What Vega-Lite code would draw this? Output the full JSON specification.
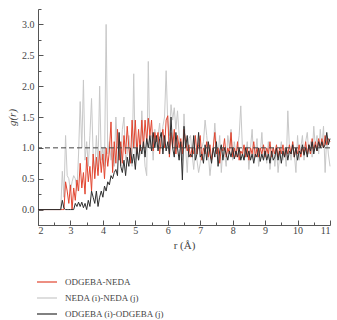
{
  "$schema": "https://vega.github.io/schema/vega-lite/v6.json",
  "width": 292,
  "height": 216,
  "padding": {"left": 6, "top": 8, "right": 2, "bottom": 0},
  "config": {
    "font": "Liberation Serif",
    "view": {"stroke": null},
    "axis": {"grid": false, "domainColor": "#555", "tickColor": "#555", "labelColor": "#444", "titleColor": "#444", "labelFontSize": 10, "titleFontSize": 11, "titleFontWeight": "normal", "domainWidth": 1, "tickWidth": 1}
  },
  "data": {"values": [
    {"r":2.0,"a":0,"b":0,"c":0},
    {"r":2.7,"a":0,"b":0,"c":0},
    {"r":2.75,"a":0,"b":0.62,"c":0.15},
    {"r":2.8,"a":0,"b":0.2,"c":0.02},
    {"r":2.85,"a":0.45,"b":1.2,"c":0},
    {"r":2.9,"a":0.3,"b":0.55,"c":0},
    {"r":2.95,"a":0.1,"b":0.5,"c":0},
    {"r":3.0,"a":0.4,"b":0.3,"c":0},
    {"r":3.05,"a":0.0,"b":0.45,"c":0},
    {"r":3.1,"a":0.35,"b":0.55,"c":0},
    {"r":3.15,"a":0.15,"b":0.5,"c":0.1},
    {"r":3.2,"a":0.48,"b":0.3,"c":0.05},
    {"r":3.25,"a":0.3,"b":0.9,"c":0.12},
    {"r":3.3,"a":0.75,"b":1.75,"c":0.05},
    {"r":3.35,"a":0.35,"b":1.0,"c":0.12},
    {"r":3.4,"a":0.6,"b":2.1,"c":0.03},
    {"r":3.45,"a":0.25,"b":0.8,"c":0.1},
    {"r":3.5,"a":0.85,"b":1.1,"c":0.0},
    {"r":3.55,"a":0.45,"b":0.7,"c":0.15},
    {"r":3.6,"a":0.7,"b":1.2,"c":0.05},
    {"r":3.65,"a":0.3,"b":1.8,"c":0.3},
    {"r":3.7,"a":0.9,"b":0.9,"c":0.2},
    {"r":3.75,"a":0.5,"b":0.6,"c":0.1},
    {"r":3.8,"a":0.85,"b":1.2,"c":0.3},
    {"r":3.85,"a":0.55,"b":0.7,"c":0.05},
    {"r":3.9,"a":0.95,"b":2.0,"c":0.2},
    {"r":3.95,"a":0.6,"b":0.8,"c":0.3},
    {"r":4.0,"a":0.9,"b":1.0,"c":0.2},
    {"r":4.05,"a":0.5,"b":0.7,"c":0.38},
    {"r":4.1,"a":1.0,"b":3.0,"c":0.3},
    {"r":4.15,"a":0.7,"b":0.9,"c":0.45},
    {"r":4.2,"a":0.95,"b":1.1,"c":0.4},
    {"r":4.25,"a":1.42,"b":0.8,"c":0.55},
    {"r":4.3,"a":0.6,"b":1.0,"c":0.5},
    {"r":4.35,"a":1.1,"b":0.7,"c":0.6},
    {"r":4.4,"a":0.75,"b":1.5,"c":0.65},
    {"r":4.45,"a":1.3,"b":1.0,"c":0.55},
    {"r":4.5,"a":0.8,"b":1.2,"c":1.25},
    {"r":4.55,"a":1.1,"b":0.7,"c":0.7},
    {"r":4.6,"a":0.75,"b":1.3,"c":0.6},
    {"r":4.65,"a":1.2,"b":1.5,"c":0.8},
    {"r":4.7,"a":0.9,"b":0.8,"c":0.55},
    {"r":4.75,"a":1.35,"b":0.9,"c":0.85},
    {"r":4.8,"a":1.0,"b":1.2,"c":0.7},
    {"r":4.85,"a":0.75,"b":0.9,"c":1.0},
    {"r":4.9,"a":1.45,"b":0.7,"c":0.75},
    {"r":4.95,"a":1.0,"b":2.2,"c":0.9},
    {"r":5.0,"a":1.45,"b":0.8,"c":0.65},
    {"r":5.05,"a":0.9,"b":1.0,"c":1.0},
    {"r":5.1,"a":1.3,"b":0.8,"c":0.8},
    {"r":5.15,"a":0.95,"b":0.9,"c":1.05},
    {"r":5.2,"a":1.45,"b":1.6,"c":0.9},
    {"r":5.25,"a":1.0,"b":1.1,"c":1.1},
    {"r":5.3,"a":1.45,"b":0.7,"c":0.85},
    {"r":5.35,"a":1.1,"b":0.55,"c":1.15},
    {"r":5.4,"a":1.48,"b":2.4,"c":1.0},
    {"r":5.45,"a":1.2,"b":1.0,"c":1.2},
    {"r":5.5,"a":1.45,"b":1.2,"c":0.95},
    {"r":5.55,"a":0.95,"b":0.8,"c":1.25},
    {"r":5.6,"a":1.25,"b":1.3,"c":1.0},
    {"r":5.65,"a":1.1,"b":1.0,"c":1.2},
    {"r":5.7,"a":1.25,"b":1.2,"c":0.95},
    {"r":5.75,"a":0.9,"b":1.4,"c":1.15},
    {"r":5.8,"a":1.15,"b":1.0,"c":1.25},
    {"r":5.85,"a":1.3,"b":1.35,"c":0.9},
    {"r":5.9,"a":1.0,"b":1.5,"c":1.2},
    {"r":5.95,"a":1.45,"b":2.25,"c":0.95},
    {"r":6.0,"a":1.52,"b":1.4,"c":1.1},
    {"r":6.05,"a":0.85,"b":1.2,"c":0.9},
    {"r":6.1,"a":1.25,"b":1.7,"c":1.5},
    {"r":6.15,"a":1.0,"b":1.45,"c":1.0},
    {"r":6.2,"a":1.3,"b":1.65,"c":0.85},
    {"r":6.25,"a":0.9,"b":1.3,"c":1.25},
    {"r":6.3,"a":1.2,"b":1.6,"c":1.0},
    {"r":6.35,"a":1.0,"b":1.2,"c":0.8},
    {"r":6.4,"a":1.15,"b":1.0,"c":1.1},
    {"r":6.45,"a":0.9,"b":0.8,"c":0.48},
    {"r":6.5,"a":1.3,"b":1.55,"c":1.35},
    {"r":6.55,"a":1.1,"b":1.0,"c":1.0},
    {"r":6.6,"a":0.95,"b":0.6,"c":1.2},
    {"r":6.65,"a":1.05,"b":1.15,"c":0.85},
    {"r":6.7,"a":0.85,"b":1.2,"c":0.9},
    {"r":6.75,"a":1.0,"b":0.9,"c":0.85},
    {"r":6.8,"a":0.9,"b":0.65,"c":1.2},
    {"r":6.85,"a":1.2,"b":1.0,"c":0.8},
    {"r":6.9,"a":0.9,"b":0.8,"c":0.9},
    {"r":6.95,"a":1.05,"b":0.6,"c":1.25},
    {"r":7.0,"a":1.2,"b":0.75,"c":0.85},
    {"r":7.05,"a":0.8,"b":1.0,"c":0.9},
    {"r":7.1,"a":1.0,"b":1.1,"c":0.75},
    {"r":7.15,"a":0.9,"b":1.45,"c":1.05},
    {"r":7.2,"a":1.1,"b":1.2,"c":0.8},
    {"r":7.25,"a":0.85,"b":0.9,"c":1.1},
    {"r":7.3,"a":1.05,"b":0.55,"c":0.9},
    {"r":7.35,"a":0.8,"b":0.8,"c":0.75},
    {"r":7.4,"a":1.0,"b":1.0,"c":1.0},
    {"r":7.45,"a":1.25,"b":1.4,"c":0.85},
    {"r":7.5,"a":0.9,"b":1.0,"c":1.1},
    {"r":7.55,"a":1.0,"b":0.9,"c":0.7},
    {"r":7.6,"a":0.75,"b":1.2,"c":0.95},
    {"r":7.65,"a":1.0,"b":0.6,"c":1.05},
    {"r":7.7,"a":0.95,"b":1.0,"c":0.8},
    {"r":7.75,"a":1.15,"b":0.9,"c":1.0},
    {"r":7.8,"a":0.85,"b":0.7,"c":0.9},
    {"r":7.85,"a":1.0,"b":1.2,"c":0.8},
    {"r":7.9,"a":0.9,"b":1.0,"c":0.95},
    {"r":7.95,"a":1.25,"b":1.3,"c":0.85},
    {"r":8.0,"a":0.85,"b":0.8,"c":1.0},
    {"r":8.05,"a":1.0,"b":1.1,"c":0.82},
    {"r":8.1,"a":0.85,"b":0.9,"c":0.95},
    {"r":8.15,"a":1.1,"b":1.0,"c":0.85},
    {"r":8.2,"a":0.8,"b":1.2,"c":1.0},
    {"r":8.25,"a":0.95,"b":1.68,"c":0.8},
    {"r":8.3,"a":0.9,"b":1.0,"c":0.9},
    {"r":8.35,"a":1.05,"b":0.8,"c":0.8},
    {"r":8.4,"a":0.85,"b":0.9,"c":1.0},
    {"r":8.45,"a":1.0,"b":1.1,"c":0.85},
    {"r":8.5,"a":0.8,"b":0.65,"c":0.95},
    {"r":8.55,"a":1.0,"b":1.0,"c":0.8},
    {"r":8.6,"a":0.9,"b":1.3,"c":0.9},
    {"r":8.65,"a":1.1,"b":0.8,"c":0.75},
    {"r":8.7,"a":0.85,"b":0.9,"c":0.9},
    {"r":8.75,"a":1.0,"b":1.15,"c":0.85},
    {"r":8.8,"a":0.85,"b":0.7,"c":1.0},
    {"r":8.85,"a":1.0,"b":0.9,"c":0.78},
    {"r":8.9,"a":0.9,"b":1.25,"c":0.9},
    {"r":8.95,"a":1.05,"b":0.8,"c":0.8},
    {"r":9.0,"a":0.85,"b":1.0,"c":0.95},
    {"r":9.05,"a":1.0,"b":0.75,"c":0.8},
    {"r":9.1,"a":0.9,"b":1.1,"c":0.9},
    {"r":9.15,"a":1.1,"b":0.65,"c":0.75},
    {"r":9.2,"a":0.85,"b":0.9,"c":0.95},
    {"r":9.25,"a":1.0,"b":1.0,"c":0.8},
    {"r":9.3,"a":0.9,"b":0.7,"c":0.85},
    {"r":9.35,"a":1.05,"b":1.0,"c":1.0},
    {"r":9.4,"a":0.85,"b":0.6,"c":0.8},
    {"r":9.45,"a":1.0,"b":0.9,"c":0.95},
    {"r":9.5,"a":0.9,"b":1.1,"c":0.75},
    {"r":9.55,"a":1.05,"b":0.8,"c":0.95},
    {"r":9.6,"a":0.85,"b":1.0,"c":0.85},
    {"r":9.65,"a":1.0,"b":0.7,"c":1.0},
    {"r":9.7,"a":0.9,"b":1.6,"c":0.8},
    {"r":9.75,"a":1.05,"b":1.0,"c":0.95},
    {"r":9.8,"a":0.9,"b":0.8,"c":0.9},
    {"r":9.85,"a":1.1,"b":1.1,"c":1.05},
    {"r":9.9,"a":0.85,"b":0.9,"c":0.85},
    {"r":9.95,"a":1.0,"b":0.6,"c":1.0},
    {"r":10.0,"a":0.9,"b":1.2,"c":0.8},
    {"r":10.05,"a":1.05,"b":0.8,"c":0.95},
    {"r":10.1,"a":0.85,"b":1.0,"c":0.9},
    {"r":10.15,"a":1.0,"b":1.2,"c":1.05},
    {"r":10.2,"a":0.9,"b":0.8,"c":0.88},
    {"r":10.25,"a":1.1,"b":1.1,"c":1.0},
    {"r":10.3,"a":0.9,"b":1.25,"c":0.85},
    {"r":10.35,"a":1.05,"b":0.9,"c":1.05},
    {"r":10.4,"a":0.9,"b":1.1,"c":0.95},
    {"r":10.45,"a":1.15,"b":0.85,"c":1.1},
    {"r":10.5,"a":0.95,"b":1.35,"c":0.9},
    {"r":10.55,"a":1.1,"b":1.0,"c":1.05},
    {"r":10.6,"a":0.95,"b":1.2,"c":0.95},
    {"r":10.65,"a":1.15,"b":0.9,"c":1.1},
    {"r":10.7,"a":1.0,"b":1.3,"c":1.0},
    {"r":10.75,"a":1.15,"b":1.0,"c":1.1},
    {"r":10.8,"a":1.0,"b":1.35,"c":1.0},
    {"r":10.85,"a":1.2,"b":0.6,"c":1.05},
    {"r":10.9,"a":1.05,"b":1.2,"c":1.25},
    {"r":10.95,"a":1.15,"b":0.9,"c":1.05},
    {"r":11.0,"a":1.1,"b":0.7,"c":1.15}
  ]},
  "transform": [{"fold": ["a", "b", "c"], "as": ["series", "g"]}],
  "resolve": {"axis": {"x": "independent", "y": "independent"}},
  "layer": [
    {
      "transform": [{"filter": "datum.series == 'b'"}],
      "mark": {"type": "line", "strokeWidth": 1, "interpolate": "linear"},
      "encoding": {
        "x": {"field": "r", "type": "quantitative", "scale": {"domain": [2, 11], "nice": false, "zero": false},
              "axis": {"orient": "bottom", "values": [2.5,3.5,4.5,5.5,6.5,7.5,8.5,9.5,10.5], "labels": false, "domain": false, "tickSize": -3, "title": null}},
        "y": {"field": "g", "type": "quantitative", "scale": {"domain": [-0.25, 3.25], "nice": false, "zero": false},
              "axis": {"orient": "left", "values": [-0.25,0.25,0.75,1.25,1.75,2.25,2.75,3.25], "labels": false, "domain": false, "tickSize": -3, "title": null}},
        "color": {"field": "series", "type": "nominal", "scale": {"domain": ["a", "b", "c"], "range": ["#e2452f", "#c8c8c8", "#2e2e2e"]},
          "legend": {"orient": "none", "legendX": -2, "legendY": 262, "direction": "vertical", "title": null, "symbolType": "stroke", "symbolSize": 400, "symbolStrokeWidth": 1.2, "labelFontSize": 9, "labelColor": "#444", "labelOffset": 7, "rowPadding": -7,
            "labelExpr": "datum.label == 'a' ? 'ODGEBA-NEDA' : datum.label == 'b' ? 'NEDA (i)-NEDA (j)' : 'ODGEBA (i)-ODGEBA (j)'"}}
      }
    },
    {
      "transform": [{"filter": "datum.series == 'a'"}],
      "mark": {"type": "line", "strokeWidth": 1, "interpolate": "linear"},
      "encoding": {
        "x": {"field": "r", "type": "quantitative",
              "axis": {"orient": "bottom", "values": [2,3,4,5,6,7,8,9,10,11], "tickSize": -5, "labelPadding": 5, "title": "r (Å)", "titlePadding": 4}},
        "y": {"field": "g", "type": "quantitative",
              "axis": {"orient": "left", "values": [0,0.5,1,1.5,2,2.5,3], "format": ".1f", "tickSize": -5, "labelPadding": 9, "title": "g(r)", "titleFontStyle": "italic", "titlePadding": 4}},
        "color": {"field": "series", "type": "nominal"}
      }
    },
    {
      "transform": [{"filter": "datum.series == 'c'"}],
      "mark": {"type": "line", "strokeWidth": 1, "interpolate": "linear"},
      "encoding": {
        "x": {"field": "r", "type": "quantitative", "axis": null},
        "y": {"field": "g", "type": "quantitative", "axis": null},
        "color": {"field": "series", "type": "nominal"}
      }
    },
    {
      "data": {"values": [{"y": 1}]},
      "mark": {"type": "rule", "strokeDash": [5, 3], "color": "#444", "strokeWidth": 1},
      "encoding": {"y": {"field": "y", "type": "quantitative", "axis": null}}
    }
  ]
}
